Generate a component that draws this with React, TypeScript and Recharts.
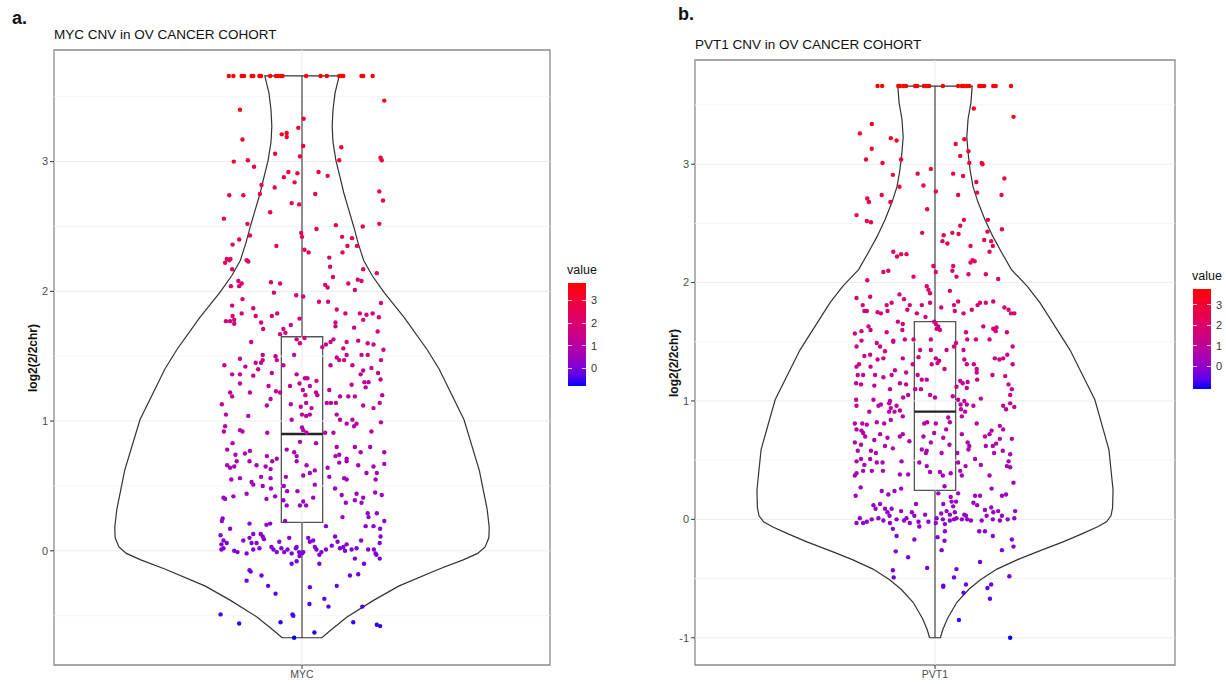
import React from 'react'
import { ComposedChart, Scatter, XAxis, YAxis, ReferenceLine, ReferenceArea } from 'recharts'

// ---- data ----
const categories = ['MYC', 'PVT1']
const titles = ['MYC CNV in OV CANCER COHORT', 'PVT1 CNV in OV CANCER COHORT']

// violin outline: [log2 value, half width in x units]
const mycViolin: [number, number][] = [
  [-0.67, 0.048], [-0.61, 0.07], [-0.51, 0.109], [-0.38, 0.174], [-0.27, 0.235], [-0.14, 0.332],
  [-0.07, 0.39], [-0.02, 0.425], [0.03, 0.443], [0.1, 0.452], [0.18, 0.453], [0.32, 0.448],
  [0.62, 0.429], [1.01, 0.392], [1.4, 0.332], [1.55, 0.303], [1.8, 0.247], [1.99, 0.199],
  [2.12, 0.17], [2.24, 0.149], [2.37, 0.136], [2.5, 0.125], [2.63, 0.113], [2.76, 0.101],
  [2.88, 0.092], [3.01, 0.082], [3.15, 0.075], [3.27, 0.073], [3.4, 0.075], [3.53, 0.08], [3.66, 0.09],
]
const pvt1Violin: [number, number][] = [
  [-1.0, 0.013], [-0.93, 0.019], [-0.84, 0.03], [-0.7, 0.053], [-0.59, 0.082], [-0.51, 0.11],
  [-0.42, 0.15], [-0.34, 0.2], [-0.27, 0.25], [-0.19, 0.31], [-0.12, 0.357], [-0.06, 0.395],
  [-0.02, 0.415], [0.03, 0.426], [0.1, 0.43], [0.25, 0.431], [0.59, 0.421], [1.01, 0.387],
  [1.43, 0.327], [1.83, 0.254], [1.97, 0.223], [2.11, 0.185], [2.25, 0.162], [2.39, 0.14],
  [2.53, 0.121], [2.68, 0.104], [2.81, 0.092], [2.95, 0.085], [3.1, 0.08], [3.23, 0.077],
  [3.38, 0.08], [3.52, 0.087], [3.66, 0.09],
]

// box: min, q1, median, q3, max
const mycBox = [-0.67, 0.22, 0.9, 1.65, 3.66]
const pvt1Box = [-1.0, 0.245, 0.91, 1.67, 3.66]

const mycTicks = [0, 1, 2, 3]
const pvt1Ticks = [-1, 0, 1, 2, 3]
const legendTicks = [0, 1, 2, 3]

// jittered samples: [x offset, log2 value]
const mycPoints: [number, number][] = [
  [-0.177,3.66],[-0.166,3.66],[-0.146,3.66],[-0.14,3.66],[-0.122,3.66],[-0.118,3.66],[-0.103,3.66],[-0.099,3.66],
  [-0.077,3.66],[-0.063,3.66],[-0.057,3.66],[-0.052,3.66],[-0.047,3.66],[0.01,3.66],[0.045,3.66],[0.06,3.66],
  [0.09,3.66],[0.096,3.66],[0.1,3.66],[0.144,3.66],[0.148,3.66],[0.171,3.66],
  [0.199,3.47],[-0.15,3.4],[0.004,3.33],[-0.009,3.26],[-0.049,3.21],[-0.037,3.22],[-0.037,3.19],[-0.144,3.17],
  [0.003,3.12],[0.095,3.11],[-0.065,3.06],[-0.005,3.04],[-0.165,3.0],[-0.131,3.01],[-0.116,2.96],[0.09,3.01],
  [0.19,3.03],[0.193,3.01],[-0.033,2.92],[-0.011,2.91],[-0.044,2.88],[0.04,2.92],[0.062,2.89],[-0.018,2.84],
  [-0.098,2.82],[-0.066,2.8],[-0.102,2.75],[-0.176,2.74],[-0.142,2.74],[0.032,2.75],[0.187,2.77],[0.196,2.7],
  [-0.025,2.68],[-0.007,2.67],[-0.077,2.61],[-0.189,2.56],[-0.132,2.52],[0.082,2.51],[0.147,2.5],[0.187,2.52],
  [0.035,2.48],[-0.002,2.45],[0,2.42],[-0.126,2.43],[0.097,2.42],[0.121,2.41],[-0.152,2.4],[-0.168,2.36],
  [-0.062,2.35],[0.11,2.35],[0.133,2.35],[0.006,2.32],[0.016,2.3],[0.098,2.3],[0.066,2.26],[-0.182,2.25],
  [-0.173,2.25],[-0.134,2.24],
  [-0.186,2.22],[-0.176,2.24],[-0.169,2.17],[-0.13,2.23],[0.068,2.19],[0.148,2.17],[0.181,2.14],[0.075,2.11],
  [-0.154,2.08],[-0.146,2.06],[-0.152,2.04],[-0.172,2.04],[-0.075,2.07],[-0.053,2.06],[-0.068,1.99],[0.056,2.05],
  [0.062,2.03],[0.112,2.06],[0.135,2.09],[0.144,2.08],[0.128,2.01],[-0.014,1.97],[0.003,1.96],[-0.144,1.94],
  [0.041,1.92],[0.063,1.92],[0.191,1.91],[-0.169,1.89],[0.084,1.86],[-0.118,1.87],[-0.146,1.83],[-0.168,1.81],
  [-0.06,1.83],[-0.073,1.81],[-0.006,1.79],[-0.112,1.81],[-0.184,1.77],[-0.174,1.77],[-0.164,1.78],[-0.164,1.75],
  [-0.099,1.76],[-0.027,1.74],[-0.045,1.71],[-0.094,1.71],[-0.04,1.68],[-0.053,1.67],[0.081,1.76],[0.081,1.73],
  [0.105,1.83],[0.14,1.83],[0.148,1.78],[0.156,1.82],[0.171,1.83],[0.186,1.8],[0.126,1.72],[0.183,1.69],
  [-0.013,1.63],[0.006,1.64],[-0.005,1.6],[0.058,1.59],[0.069,1.61],[0.076,1.63],[-0.123,1.61],[0.108,1.61],
  [0.1,1.56],[0.136,1.62],[0.173,1.59],[0.159,1.6],[0.197,1.55],[0.049,1.57],[-0.095,1.51],[-0.064,1.5],
  [-0.061,1.47],[-0.15,1.48],[-0.019,1.51],[0.084,1.49],[0.09,1.47],[0.102,1.47],[0.108,1.51],[0.144,1.51],
  [0.159,1.51],[0.191,1.47],[-0.112,1.45],[-0.099,1.45],[-0.095,1.47],[-0.188,1.43],[-0.137,1.42],[-0.045,1.43],
  [0.069,1.43],[0.122,1.43],[0.168,1.41],[0.148,1.39],[0.142,1.36],[0.184,1.37],[-0.169,1.36],[-0.15,1.36],
  [-0.118,1.35],[-0.106,1.4],[-0.073,1.37],[-0.013,1.36],[0.007,1.33],[0.013,1.33],[0.035,1.31],[-0.081,1.27],
  [-0.029,1.27],[-0.006,1.29],[0.019,1.27],[0.12,1.28],[0.151,1.3],[0.161,1.3],[0.154,1.26],[0.19,1.32],
  [-0.15,1.29],[-0.174,1.22],[-0.169,1.19],[-0.126,1.22],[-0.076,1.17],[-0.053,1.22],[-0.063,1.23],[0.002,1.24],
  [0.008,1.2],[0.034,1.22],[0.037,1.2],[0.066,1.24],[0.092,1.19],[0.112,1.19],[0.128,1.19],[0.194,1.2],
  [-0.194,1.13],[-0.085,1.12],[-0.027,1.13],[-0.003,1.11],[0.01,1.14],[0.023,1.1],[0.06,1.14],[0.07,1.14],
  [0.082,1.14],[0.148,1.12],[0.173,1.1],[0.188,1.14],[-0.13,1.04],[-0.184,1.05],[-0.025,1.01],[0,1.05],
  [0.01,1.04],[0.019,1.05],[0.084,1.05],[0.092,1.01],[0.122,1.01],[0.108,0.98],[0.126,0.96],[0.132,0.98],
  [0.191,0.99],[-0.186,0.96],[-0.15,0.93],[-0.144,0.92],[-0.189,0.92],[-0.084,0.91],[0,0.95],[0.003,0.93],
  [0.011,0.91],[0.056,0.91],[0.076,0.91],[0.168,0.92],[-0.168,0.83],[-0.181,0.78],[-0.161,0.74],[-0.138,0.75],
  [-0.126,0.77],[-0.037,0.78],[-0.019,0.76],[-0.005,0.84],[0.034,0.83],[0.084,0.8],[0.09,0.74],[0.128,0.8],
  [0.142,0.76],[0.165,0.8],[0.199,0.76],[-0.085,0.73],[-0.061,0.71],[-0.013,0.73],[0.081,0.73],[0.108,0.71],
  [-0.181,0.66],[-0.174,0.64],[-0.164,0.65],[-0.158,0.69],[-0.127,0.69],[-0.11,0.66],[-0.088,0.65],[-0.076,0.63],
  [-0.072,0.69],[-0.013,0.69],[0.011,0.66],[0.031,0.62],[0.062,0.64],[0.09,0.68],[0.108,0.69],[0.136,0.66],
  [0.156,0.6],[0.173,0.65],[0.181,0.6],[0.199,0.67],[-0.171,0.55],[-0.15,0.56],[-0.122,0.53],[-0.118,0.51],
  [-0.099,0.57],[-0.076,0.56],[-0.039,0.57],[0.003,0.58],[0.019,0.6],[0.066,0.57],[0.102,0.56],[0.108,0.55],
  [0.178,0.55],[-0.095,0.5],[-0.075,0.48],[-0.044,0.5],[-0.036,0.46],[-0.011,0.46],[0.031,0.51],[0.08,0.48],
  [0.096,0.43],[0.132,0.44],[0.177,0.45],[0.193,0.43],[-0.134,0.44],[-0.19,0.41],[-0.186,0.4],[-0.166,0.42],
  [-0.086,0.4],[-0.045,0.39],[-0.065,0.42],[-0.037,0.35],[-0.005,0.35],[0.003,0.38],[0.01,0.35],[0.027,0.41],
  [0.106,0.37],[0.128,0.39],[0.144,0.37],[0.148,0.41],[-0.192,0.25],[-0.194,0.23],[0.098,0.26],[0.159,0.29],
  [0.161,0.26],[0.181,0.29],[0.199,0.23],[-0.174,0.17],[-0.127,0.21],[-0.086,0.2],[-0.077,0.21],[-0.041,0.23],
  [0.058,0.19],[0.154,0.19],[0.173,0.19],[0.189,0.17],[-0.197,0.12],[-0.19,0.08],[-0.182,0.06],[-0.195,0.05],
  [-0.19,0.02],[-0.195,0.01],[-0.164,0.0],[-0.156,-0.01],[-0.142,0.08],[-0.127,0.1],[-0.122,0.06],[-0.118,0.13],
  [-0.11,0.06],[-0.1,0.13],[-0.095,0.11],[-0.092,0.09],[-0.134,-0.02],[-0.118,0.01],[-0.103,0.02],[-0.074,0.03],
  [-0.069,0.01],[-0.061,-0.01],[-0.055,0.07],[-0.05,0.02],[-0.043,-0.01],[-0.035,0.01],[-0.031,0.1],[-0.025,-0.02],
  [-0.015,0.02],[-0.007,-0.01],[0,-0.02],[0.003,-0.01],[-0.006,-0.04],[-0.013,0.03],[0.015,0.1],[0.019,0.07],
  [0.027,0.08],[0.031,0.03],[0.035,0.01],[0.042,-0.03],[0.047,-0.01],[0.058,0.01],[0.072,0.04],[0.08,0.11],
  [0.086,0.07],[0.092,0.02],[0.1,0.03],[0.104,0.0],[0.108,0.05],[0.12,0.01],[0.132,0.02],[0.143,0.08],
  [0.16,0.01],[0.174,0.01],[0.178,-0.02],[0.18,-0.03],[0.188,0.06],[0.188,-0.06],[0.19,0.11],[-0.025,-0.1],
  [-0.013,-0.08],[0.042,-0.1],[-0.127,-0.15],[-0.124,-0.16],[-0.098,-0.19],[-0.134,-0.23],[-0.082,-0.27],[0.128,-0.06],
  [0.116,-0.19],[0.136,-0.18],[0.15,-0.1],[-0.064,-0.33],[0.019,-0.28],[0.084,-0.27],[0.054,-0.37],[0.018,-0.41],
  [0.064,-0.43],[-0.023,-0.49],[-0.021,-0.5],[-0.197,-0.49],[0.146,-0.43],[-0.152,-0.56],[-0.052,-0.55],[0.124,-0.55],
  [0.181,-0.57],[0.189,-0.58],[0.03,-0.63],[-0.019,-0.67],
]

const pvt1Points: [number, number][] = [
  [-0.139,3.66],[-0.128,3.66],[-0.089,3.66],[-0.085,3.66],[-0.077,3.66],[-0.07,3.66],[-0.048,3.66],[-0.043,3.66],
  [-0.027,3.66],[-0.02,3.66],[-0.014,3.66],[0.019,3.66],[0.056,3.66],[0.065,3.66],[0.07,3.66],[0.077,3.66],
  [0.083,3.66],[0.107,3.66],[0.113,3.66],[0.119,3.66],[0.141,3.66],[0.147,3.66],[0.184,3.66],
  [0.094,3.47],[0.19,3.4],[-0.153,3.34],[-0.182,3.26],[-0.107,3.22],[-0.093,3.2],[0.071,3.21],[0.05,3.17],
  [-0.153,3.13],[0.081,3.11],[-0.167,3.04],[-0.082,3.04],[0.061,3.07],[-0.127,3.01],[0.083,3.01],[0.113,3.01],
  [0.115,3.0],[-0.01,2.96],[-0.042,2.92],[-0.102,2.91],[0.044,2.92],[0.068,2.9],[0.168,2.88],[-0.028,2.82],
  [-0.086,2.81],[0.1,2.85],[0.002,2.77],[-0.129,2.74],[0.056,2.74],[0.102,2.76],[0.161,2.74],[-0.164,2.71],
  [-0.16,2.68],[-0.108,2.68],[-0.019,2.62],[-0.19,2.57],[-0.165,2.52],[-0.155,2.51],[0.07,2.53],[0.128,2.53],
  [0.061,2.48],[0.042,2.42],[0.057,2.41],[0.021,2.4],[-0.031,2.42],[0.127,2.43],[0.162,2.45],[0.018,2.35],
  [0.03,2.33],[0.119,2.36],[0.136,2.35],[0.14,2.31],[0.086,2.31],[0.132,2.26],[-0.101,2.26],[-0.082,2.24],
  [-0.069,2.24],[-0.092,2.22],[0.091,2.19],[0.096,2.18],[0.086,2.17],[-0.004,2.14],[0.044,2.14],
  [-0.125,2.09],[-0.113,2.1],[-0.052,2.05],[0.002,2.09],[0.042,2.1],[0.052,2.05],[0.081,2.07],[0.123,2.07],
  [0.153,2.03],[-0.164,2.02],[-0.02,1.97],[-0.016,1.94],[-0.012,1.91],[-0.086,1.9],[-0.075,1.86],[0.036,1.93],
  [-0.19,1.87],[-0.157,1.88],[-0.175,1.81],[-0.171,1.76],[-0.165,1.76],[-0.139,1.75],[-0.131,1.74],[-0.117,1.81],
  [-0.105,1.83],[-0.115,1.76],[-0.061,1.81],[-0.067,1.77],[-0.044,1.74],[-0.032,1.81],[-0.012,1.83],[0.015,1.79],
  [0.046,1.81],[0.048,1.76],[0.056,1.84],[0.069,1.74],[0.089,1.77],[0.103,1.81],[0.109,1.83],[0.123,1.83],
  [0.141,1.84],[0.168,1.79],[0.178,1.77],[0.184,1.74],[0.192,1.74],[-0.09,1.67],[-0.078,1.65],[-0.023,1.71],
  [-0.002,1.67],[0.002,1.65],[0.008,1.63],[0.004,1.61],[0.012,1.6],[-0.161,1.63],[-0.194,1.57],[-0.178,1.59],
  [-0.156,1.6],[-0.117,1.58],[-0.079,1.6],[-0.101,1.51],[-0.101,1.5],[-0.073,1.52],[-0.052,1.52],[-0.01,1.52],
  [0.046,1.46],[0.051,1.49],[0.075,1.58],[0.078,1.52],[0.099,1.52],[0.117,1.63],[0.141,1.61],[0.147,1.59],
  [0.149,1.62],[0.174,1.58],[0.132,1.52],[-0.19,1.46],[-0.178,1.51],[-0.141,1.49],[-0.133,1.46],[-0.121,1.42],
  [0.028,1.43],[0.188,1.46],[-0.036,1.43],[-0.01,1.43],[-0.157,1.39],[-0.139,1.35],[-0.125,1.36],[-0.078,1.36],
  [-0.04,1.37],[0.002,1.36],[0.01,1.34],[0.069,1.43],[0.071,1.35],[0.145,1.36],[0.156,1.35],[0.165,1.36],
  [0.175,1.39],[-0.171,1.38],[-0.19,1.29],[-0.184,1.31],[-0.156,1.29],[-0.054,1.31],[-0.008,1.31],[0.006,1.32],
  [0.023,1.27],[0.077,1.31],[0.094,1.31],[0.101,1.27],[0.188,1.31],[-0.187,1.22],[-0.174,1.22],[-0.145,1.22],
  [-0.125,1.2],[-0.097,1.26],[-0.105,1.22],[-0.07,1.24],[0.101,1.24],[0.139,1.22],[-0.179,1.14],[-0.191,1.15],
  [-0.147,1.13],[-0.085,1.15],[-0.07,1.14],[-0.042,1.22],[-0.032,1.18],[-0.02,1.18],[0.061,1.17],[0.067,1.15],
  [0.079,1.16],[0.102,1.18],[0.17,1.21],[0.178,1.14],[-0.048,1.1],[-0.034,1.1],[-0.109,1.1],[0.052,1.12],
  [0.077,1.11],[0.186,1.1],[-0.191,1.01],[-0.149,1.01],[-0.109,1.0],[-0.077,1.03],[-0.065,1.05],[-0.012,1.05],
  [0,1.03],[0.043,1.04],[0.056,1.01],[0.071,1.0],[0.111,1.02],[0.182,1.05],[-0.19,0.96],[-0.159,0.91],
  [-0.137,0.96],[-0.131,0.97],[-0.111,0.98],[-0.107,0.94],[-0.093,0.96],[-0.098,0.91],[-0.111,0.91],[-0.085,0.92],
  [0.062,0.97],[0.077,0.97],[0.063,0.93],[0.073,0.91],[0.093,0.96],[0.165,0.96],[0.182,0.98],[0.192,0.95],
  [0.172,0.93],[0.065,0.87],[-0.194,0.81],[-0.176,0.81],[-0.19,0.76],[-0.178,0.75],[-0.174,0.73],[-0.165,0.8],
  [-0.141,0.82],[-0.123,0.81],[-0.107,0.84],[-0.078,0.87],[-0.026,0.81],[-0.019,0.82],[0.002,0.81],[0.032,0.86],
  [0.036,0.82],[0.027,0.76],[0.101,0.81],[0.137,0.75],[0.157,0.79],[0.165,0.76],[-0.169,0.7],[-0.147,0.67],
  [-0.133,0.72],[-0.115,0.69],[-0.085,0.7],[-0.078,0.72],[-0.062,0.66],[-0.028,0.7],[-0.01,0.65],[-0.002,0.73],
  [0.035,0.63],[0.02,0.69],[0.065,0.72],[0.079,0.65],[0.121,0.7],[0.148,0.64],[0.132,0.72],[0.157,0.68],
  [0.186,0.68],[-0.194,0.65],[-0.187,0.58],[-0.179,0.63],[-0.155,0.58],[-0.143,0.56],[-0.121,0.62],[-0.102,0.6],
  [-0.032,0.59],[-0.02,0.58],[-0.022,0.56],[0.016,0.56],[0.054,0.56],[0.081,0.59],[0.083,0.62],[0.097,0.51],
  [0.123,0.62],[0.14,0.62],[0.164,0.58],[0.143,0.56],[0.182,0.55],[-0.19,0.49],[-0.179,0.51],[-0.157,0.51],
  [-0.171,0.46],[-0.141,0.48],[-0.127,0.48],[-0.081,0.49],[-0.038,0.48],[-0.02,0.45],[0.056,0.48],[0.074,0.45],
  [0.111,0.46],[0.178,0.49],[0.174,0.45],[0.182,0.44],
  [-0.194,0.37],[-0.19,0.39],[-0.174,0.41],[-0.153,0.41],[-0.126,0.41],[-0.085,0.38],[-0.065,0.38],[-0.012,0.4],
  [0.012,0.4],[0.019,0.37],[0.038,0.39],[0.061,0.41],[0.065,0.37],[0.132,0.37],[-0.18,0.27],[-0.129,0.24],
  [-0.113,0.21],[-0.098,0.24],[-0.082,0.26],[-0.192,0.2],[0.023,0.28],[0.008,0.22],[0.038,0.19],[0.056,0.22],
  [0.051,0.15],[0.04,0.15],[0.097,0.2],[0.109,0.2],[0.137,0.26],[0.162,0.2],[0.172,0.21],[0.19,0.31],
  [-0.046,0.13],[-0.149,0.12],[-0.144,0.09],[-0.133,0.13],[-0.121,0.09],[-0.115,0.06],[-0.105,0.09],[-0.11,0.03],
  [-0.082,0.07],[-0.056,0.06],[-0.05,0.03],[0.02,0.13],[0.028,0.07],[0.015,0.05],[0.036,0.04],[0.044,0.11],
  [0.048,0.06],[0.052,0.01],[0.071,0.04],[0.093,0.14],[0.102,0.12],[0.121,0.08],[0.136,0.1],[0.141,0.06],
  [0.153,0.07],[0.162,0.03],[0.194,0.07],[-0.19,-0.03],[-0.182,0.01],[-0.174,-0.03],[-0.165,-0.02],[-0.153,0.0],
  [-0.137,0.01],[-0.125,-0.01],[-0.109,-0.03],[-0.102,-0.08],[-0.093,0.0],[-0.075,-0.01],[-0.069,0.01],[-0.061,-0.03],
  [-0.04,-0.02],[-0.038,-0.06],[-0.024,0.04],[-0.016,-0.02],[0.002,-0.03],[0.004,0.01],[0.019,0.0],[0.024,-0.04],
  [0.036,-0.01],[0.046,0.0],[0.065,0.0],[0.075,0.03],[0.078,0.0],[0.087,-0.01],[0.113,-0.01],[0.125,0.03],
  [0.14,0.0],[0.157,-0.01],[0.176,0.0],[0.192,0.01],[0.024,-0.1],[0.107,-0.1],[0.121,-0.1],[0.14,-0.14],
  [-0.093,-0.14],[0.006,-0.15],[-0.05,-0.17],[0.023,-0.18],[0.186,-0.17],[0.19,-0.23],[0.016,-0.26],[-0.095,-0.27],
  [0.162,-0.26],[-0.065,-0.32],[0.109,-0.36],[-0.019,-0.41],[0.052,-0.42],[-0.102,-0.43],[-0.1,-0.49],[0.046,-0.49],
  [0.18,-0.48],[0.02,-0.56],[0.02,-0.57],[0.075,-0.55],[0.136,-0.55],[0.127,-0.58],[0.069,-0.62],[0.133,-0.67],
  [0.058,-0.85],[0.182,-1.0],
]

// ---- colour scale (ggplot2 style gradient, interpolated in CIELAB) ----
const toLin = (c: number) => {
  const v = c / 255
  return v <= 0.04045 ? v / 12.92 : Math.pow((v + 0.055) / 1.055, 2.4)
}
const fromLin = (c: number) => {
  const v = c <= 0.0031308 ? 12.92 * c : 1.055 * Math.pow(c, 1 / 2.4) - 0.055
  return Math.round(Math.max(0, Math.min(1, v)) * 255)
}
function rgbToLab(r: number, g: number, b: number) {
  const R = toLin(r), G = toLin(g), B = toLin(b)
  const x = (R * 0.4124 + G * 0.3576 + B * 0.1805) / 0.95047
  const y = R * 0.2126 + G * 0.7152 + B * 0.0722
  const z = (R * 0.0193 + G * 0.1192 + B * 0.9505) / 1.08883
  const f = (t: number) => (t > 0.008856 ? Math.cbrt(t) : 7.787 * t + 16 / 116)
  return [116 * f(y) - 16, 500 * (f(x) - f(y)), 200 * (f(y) - f(z))]
}
function labToRgb(L: number, a: number, b: number) {
  const fy = (L + 16) / 116
  const fx = fy + a / 500
  const fz = fy - b / 200
  const inv = (t: number) => (t * t * t > 0.008856 ? t * t * t : (t - 16 / 116) / 7.787)
  const x = inv(fx) * 0.95047, y = inv(fy), z = inv(fz) * 1.08883
  const R = x * 3.2406 - y * 1.5372 - z * 0.4986
  const G = -x * 0.9689 + y * 1.8758 + z * 0.0415
  const B = x * 0.0557 - y * 0.204 + z * 1.057
  return `rgb(${fromLin(R)},${fromLin(G)},${fromLin(B)})`
}
const LOW = rgbToLab(0, 0, 255)
const HIGH = rgbToLab(255, 0, 0)
function colorFor(v: number, lo: number, hi: number) {
  const t = Math.max(0, Math.min(1, (v - lo) / (hi - lo)))
  return labToRgb(LOW[0] + (HIGH[0] - LOW[0]) * t, LOW[1] + (HIGH[1] - LOW[1]) * t, LOW[2] + (HIGH[2] - LOW[2]) * t)
}

const FONT = '"Liberation Sans", Arial, Helvetica, sans-serif'
const PAGE_H = 684
const AXIS_W = 24

interface Layout {
  x0: number
  w: number
  left: number
  right: number
  top: number
  bottom: number
  xDomain: [number, number]
  barLeft: number
  barTop: number
  barH: number
  letterX: number
  letterY: number
  titleY: number
}

interface PanelProps {
  idx: number
  violin: [number, number][]
  box: number[]
  points: [number, number][]
  domain: [number, number]
  ticks: number[]
  lay: Layout
}

function Panel({ idx, violin, box, points, domain, ticks, lay }: PanelProps) {
  const name = categories[idx]
  const [yMin, yMax] = domain
  const [xMin, xMax] = lay.xDomain
  const [bMin, q1, med, q3, bMax] = box
  const lo = bMin
  const hi = bMax

  const outline = [
    ...violin.map(([v, w]) => ({ x: 1 - w, y: v })),
    ...[...violin].reverse().map(([v, w]) => ({ x: 1 + w, y: v })),
  ]
  outline.push(outline[0])
  const pts = points.map(([dx, v]) => ({ x: 1 + dx, y: v }))

  const grid: number[] = []
  for (let g = Math.ceil(yMin * 2) / 2; g <= yMax; g += 0.5) grid.push(g)

  // colour bar spans the limits plus half a bin on each end, like ggplot's colourbar
  const pad = (hi - lo) / 40
  const barLo = lo - pad
  const barHi = hi + pad
  const stops = Array.from({ length: 11 }, (_, i) => `${colorFor(barLo + ((barHi - barLo) * i) / 10, lo, hi)} ${i * 10}%`)

  return (
    <>
      <div style={{ position: 'absolute', left: lay.x0, top: 0 }}>
        <ComposedChart
          width={lay.w}
          height={PAGE_H}
          margin={{ top: lay.top, right: lay.x0 + lay.w - lay.right, bottom: 0, left: lay.left - lay.x0 - AXIS_W }}
        >
          <XAxis
            type="number"
            dataKey="x"
            domain={lay.xDomain}
            ticks={[1]}
            tickFormatter={() => name}
            height={PAGE_H - lay.bottom}
            axisLine={false}
            tickLine={{ stroke: '#333' }}
            tickSize={4}
            tick={{ fill: '#4d4d4d', fontSize: 10.5 }}
            allowDataOverflow
          />
          <YAxis
            type="number"
            dataKey="y"
            domain={domain}
            ticks={ticks}
            width={AXIS_W}
            axisLine={false}
            tickLine={{ stroke: '#333' }}
            tickSize={4}
            tick={{ fill: '#4d4d4d', fontSize: 11 }}
            allowDataOverflow
          />
          {grid.map((g) => (
            <ReferenceLine key={g} y={g} stroke={Number.isInteger(g) ? '#ebebeb' : '#f4f4f4'} strokeWidth={1} />
          ))}
          <ReferenceLine x={1} stroke="#ebebeb" />
          <ReferenceArea x1={xMin} x2={xMax} y1={yMin} y2={yMax} fill="none" fillOpacity={0} stroke="#8a8a8a" strokeWidth={1.3} />
          <Scatter
            data={outline}
            line={{ stroke: '#333', strokeWidth: 1.2 }}
            lineType="joint"
            shape={() => <g />}
            isAnimationActive={false}
          />
          <ReferenceLine segment={[{ x: 1, y: q3 }, { x: 1, y: bMax }]} stroke="#555" strokeWidth={1.3} />
          <ReferenceLine segment={[{ x: 1, y: bMin }, { x: 1, y: q1 }]} stroke="#555" strokeWidth={1.3} />
          <ReferenceArea x1={0.95} x2={1.05} y1={q1} y2={q3} fill="none" fillOpacity={0} stroke="#555" strokeWidth={1.3} />
          <ReferenceLine segment={[{ x: 0.95, y: med }, { x: 1.05, y: med }]} stroke="#222" strokeWidth={2.4} />
          <Scatter
            data={pts}
            isAnimationActive={false}
            shape={(p: any) => <circle cx={p.cx} cy={p.cy} r={2.2} fill={colorFor(p.payload.y, lo, hi)} />}
          />
        </ComposedChart>
      </div>

      <div style={{ position: 'absolute', left: lay.letterX, top: lay.letterY, fontSize: 18, fontWeight: 'bold', lineHeight: '20px', color: '#111' }}>
        {idx === 0 ? 'a.' : 'b.'}
      </div>
      <div style={{ position: 'absolute', left: lay.left, top: lay.titleY, fontSize: 13.5, lineHeight: '16px', color: '#111', whiteSpace: 'nowrap' }}>
        {titles[idx]}
      </div>
      <div
        style={{
          position: 'absolute',
          left: lay.left - 21,
          top: (lay.top + lay.bottom) / 2,
          transform: 'translate(-50%, -50%) rotate(-90deg)',
          fontSize: 12,
          fontWeight: 'bold',
          whiteSpace: 'nowrap',
          color: '#111',
        }}
      >
        log2(2/2chr)
      </div>

      {/* colour bar legend */}
      <div style={{ position: 'absolute', left: lay.barLeft - 1, top: lay.barTop - 20, fontSize: 12.5, color: '#111' }}>value</div>
      <div
        style={{
          position: 'absolute',
          left: lay.barLeft,
          top: lay.barTop,
          width: 18,
          height: lay.barH,
          background: `linear-gradient(to top, ${stops.join(', ')})`,
        }}
      />
      {legendTicks.map((t) => {
        const y = lay.barTop + ((barHi - t) / (barHi - barLo)) * lay.barH
        return (
          <React.Fragment key={t}>
            <div style={{ position: 'absolute', left: lay.barLeft, top: y - 0.5, width: 4, height: 1, background: 'rgba(255,255,255,0.8)' }} />
            <div style={{ position: 'absolute', left: lay.barLeft + 14, top: y - 0.5, width: 4, height: 1, background: 'rgba(255,255,255,0.8)' }} />
            <div style={{ position: 'absolute', left: lay.barLeft + 23, top: y - 7, fontSize: 11, lineHeight: '14px', color: '#333' }}>{t}</div>
          </React.Fragment>
        )
      })}
    </>
  )
}

const leftLayout: Layout = {
  x0: 0, w: 612, left: 54, right: 550, top: 50, bottom: 665, xDomain: [0.4, 1.6],
  barLeft: 568, barTop: 283, barH: 103, letterX: 12, letterY: 8, titleY: 27,
}
const rightLayout: Layout = {
  x0: 612, w: 614, left: 695, right: 1175, top: 60, bottom: 665, xDomain: [0.419, 1.581],
  barLeft: 1193, barTop: 289, barH: 100, letterX: 678, letterY: 4, titleY: 37,
}

export default function App() {
  return (
    <div style={{ position: 'fixed', left: 0, top: 0, width: 1226, height: 684, background: '#fff', fontFamily: FONT, overflow: 'hidden' }}>
      <Panel idx={0} violin={mycViolin} box={mycBox} points={mycPoints} domain={[-0.88, 3.86]} ticks={mycTicks} lay={leftLayout} />
      <Panel idx={1} violin={pvt1Violin} box={pvt1Box} points={pvt1Points} domain={[-1.23, 3.88]} ticks={pvt1Ticks} lay={rightLayout} />
    </div>
  )
}
